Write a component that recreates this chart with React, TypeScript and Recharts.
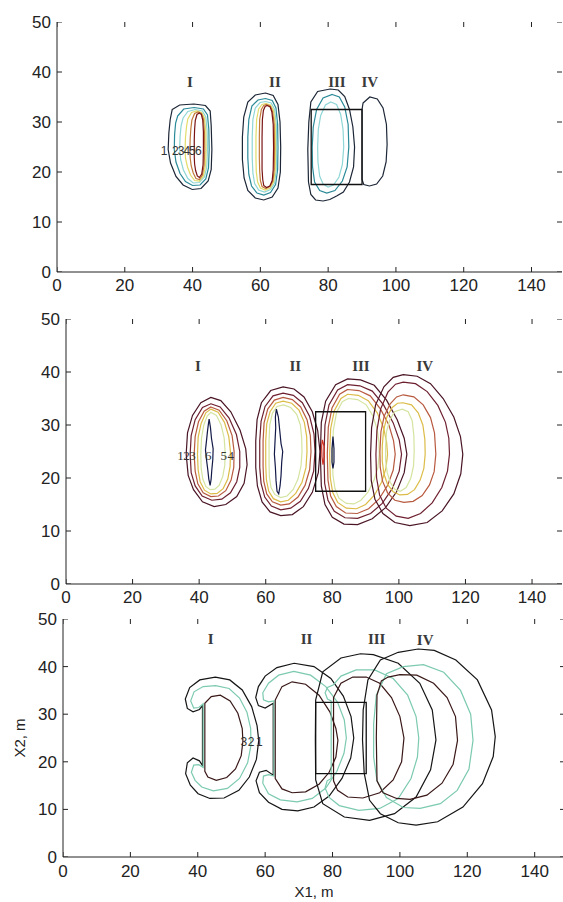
import React from 'react';
import { ComposedChart, Line, Scatter, XAxis, YAxis } from 'recharts';

// ---------- axes ----------
const xTicks = [0, 20, 40, 60, 80, 100, 120, 140];
const yTicks = [0, 10, 20, 30, 40, 50];
const xDomain = [0, 149];
const yDomain = [0, 50];

// ---------- box (all panels) ----------
const boxX = [75, 90];
const boxY = [17.5, 32.5];

// ---------- roman labels ----------
const romanText = ['I', 'II', 'III', 'IV'];
const romanP1 = [[39.2, 38.1], [64.3, 38], [82.6, 38], [92.3, 38]];
const romanP2 = [[39.6, 41.1], [68.9, 41.1], [88.6, 41.1], [107.8, 41.1]];
const romanP3 = [[43.8, 45.8], [72.3, 45.8], [93.1, 45.8], [107.5, 45.5]];

// ---------- contour labels ----------
const levelText1 = ['1', '2', '3', '4', '5', '6'];
const levelX1 = [31.6, 34.9, 36.6, 38.3, 39.9, 41.7];
const levelY1 = 24.2;
const levelText2 = ['1', '2', '3', '6', '5', '4'];
const levelX2 = [34.4, 36.2, 38.0, 42.7, 47.4, 49.5];
const levelY2 = 24.3;
const levelText3 = ['3', '2', '1'];
const levelX3 = [53.7, 55.8, 58.3];
const levelY3 = 24.2;

// ---------- colours ----------
const colors1 = ['#1c2636', '#2a8a98', '#8fd6d6', '#e2dc6a', '#c27a3a', '#7a1414'];
const colors2 = ['#4a1525', '#6e2030', '#b85a40', '#dcbc48', '#d4e4a0', '#141a48'];
const colors3 = ['#151515', '#7ccab0', '#3a1818'];
const redSpotColor = '#d03020';

// ---------- panel 1 contours ----------
const p1I1 = [[34.0,32.5],[36.2,33.4],[40.4,33.6],[43.8,33.3],[45.2,32.2],[45.5,29.2],[45.7,24.5],[45.5,20.5],[44.6,18.2],[42.5,16.7],[39.9,16.5],[37.2,17.4],[35.1,19.1],[33.5,21.8],[32.8,24.5],[33.0,27.8],[33.4,30.5]];
const p1I2 = [[35.6,31.2],[37.4,32.6],[40.5,32.9],[43.2,32.6],[44.4,31.4],[44.8,28.5],[44.9,24.5],[44.7,20.8],[43.9,18.6],[42.2,17.4],[40,17.3],[37.9,18.1],[36.3,19.7],[35.1,22],[34.6,24.5],[34.7,27.5],[35,29.8]];
const p1I3 = [[37.2,30.8],[38.6,32.1],[40.8,32.5],[42.9,32.2],[43.9,31],[44.3,28.3],[44.4,24.5],[44.2,21],[43.5,19],[42,17.9],[40.2,17.8],[38.6,18.7],[37.3,20.4],[36.5,22.4],[36.2,24.5],[36.3,27],[36.6,29.2]];
const p1I4 = [[38.6,30.6],[39.7,31.9],[41.2,32.2],[42.7,31.9],[43.5,30.8],[43.9,28.2],[44.0,24.5],[43.8,21.2],[43.2,19.2],[42,18.2],[40.6,18.3],[39.4,19.4],[38.5,21],[37.9,22.8],[37.8,24.5],[37.9,26.8],[38.2,29]];
const p1I5 = [[39.8,30.4],[40.6,31.7],[41.6,32.0],[42.6,31.7],[43.2,30.6],[43.5,28],[43.6,24.5],[43.4,21.3],[42.9,19.4],[42,18.5],[41.0,18.7],[40.2,19.8],[39.6,21.2],[39.3,22.8],[39.2,24.5],[39.3,26.7],[39.5,28.7]];
const p1I6 = [[40.8,30.3],[41.3,31.5],[42,31.8],[42.6,31.5],[43,30.4],[43.2,28],[43.2,24.5],[43.1,21.5],[42.7,19.6],[42,18.9],[41.4,19.2],[40.9,20.3],[40.6,21.6],[40.5,23],[40.5,24.5],[40.5,26.5],[40.6,28.5]];

const p1II1 = [[61.5,35.8],[63.8,35.3],[65.2,33.5],[65.8,30],[66.0,25],[65.9,20],[65.2,16.8],[63.5,15],[61,14.4],[58.5,14.8],[56.3,16.3],[55.2,18.8],[54.7,22.5],[54.7,27],[55.1,31],[56.3,34],[58.5,35.4]];
const p1II2 = [[61.5,34.7],[63.5,34.3],[64.6,32.8],[65.1,29.5],[65.2,25],[65.1,20.5],[64.5,17.5],[63,15.9],[61,15.4],[59,15.8],[57.4,17.2],[56.6,19.5],[56.3,22.8],[56.3,27],[56.6,30.5],[57.5,33.2],[59.3,34.4]];
const p1II3 = [[61.5,34.1],[63.2,33.8],[64.2,32.5],[64.7,29.5],[64.8,25],[64.7,20.5],[64.2,17.8],[63,16.5],[61.2,16],[59.5,16.4],[58.3,17.7],[57.8,19.8],[57.6,22.8],[57.6,27],[57.8,30.5],[58.5,32.8],[59.9,33.9]];
const p1II4 = [[61.6,33.7],[63,33.4],[63.9,32.3],[64.4,29.5],[64.5,25],[64.4,20.5],[63.9,18],[62.9,16.8],[61.4,16.4],[60,16.8],[59.2,18],[58.8,20],[58.7,23],[58.7,27],[58.9,30.5],[59.5,32.6],[60.5,33.5]];
const p1II5 = [[61.8,33.5],[62.9,33.2],[63.6,32.1],[64.1,29.5],[64.2,25],[64.1,20.5],[63.7,18.2],[62.8,17.1],[61.6,16.7],[60.5,17.1],[60,18.3],[59.8,20.2],[59.7,23],[59.7,27],[59.8,30.5],[60.3,32.5],[61,33.3]];
const p1II6 = [[62,33.3],[62.9,33],[63.4,32],[63.8,29.5],[63.9,25],[63.8,20.5],[63.5,18.3],[62.8,17.2],[61.8,16.9],[61,17.3],[60.7,18.5],[60.5,20.5],[60.5,23],[60.5,27],[60.6,30.5],[60.9,32.3],[61.4,33.1]];

const p1III1 = [[80.6,36.6],[83,36.4],[84.9,35.1],[86.3,32.5],[87.3,29],[87.8,25],[87.5,21],[86.3,18],[84.5,16],[82.5,15.2],[80.5,14.5],[78.5,14.2],[76.3,14.4],[74.9,15.5],[74.2,18],[74.0,24.5],[74.3,30],[74.9,34],[76.9,36.1]];
const p1III2 = [[81.2,35.5],[83.3,35],[84.9,33],[85.9,29.5],[86.1,25],[85.6,21],[84.2,18.2],[82,16.3],[79.6,15.8],[77.5,16.3],[76,18],[75.4,21],[75.3,25],[75.6,29],[76.6,32.5],[78.5,34.8]];
const p1III3 = [[80.8,34],[82.5,33.5],[83.7,31.5],[84.4,28.5],[84.6,25],[84.2,21.5],[83.2,19],[81.6,17.4],[80,17],[78.5,17.6],[77.5,19.2],[77,22],[76.9,25],[77.1,28.5],[77.8,31.3],[79.2,33.4]];

const p1IV1 = [[90.3,33.8],[92.3,35],[94.5,34.6],[96.2,32.8],[97.2,29.5],[97.4,25.5],[97.1,22],[96.1,19.2],[94.3,17.6],[92.2,17.2],[90.5,17.5],[90,18.5],[90,32.5]];

// ---------- panel 2 contours ----------
const p2I1 = [[43.5,35.2],[46.5,34.6],[49.5,32.5],[52.3,29],[54,25.5],[54.4,22.5],[53.5,19],[51.3,16.5],[48,15],[44.5,14.6],[41,15.5],[38.3,17.8],[36.7,20.5],[36.1,24.5],[36.5,28.5],[38,31.8],[40.5,34.2]];
const p2I2 = [[43.5,34],[46.3,33.4],[49,31.3],[51.2,28.2],[52.2,25],[52.2,22],[51.3,19.3],[49.4,17.2],[46.8,16],[43.8,15.8],[40.9,16.6],[38.8,18.5],[37.6,21],[37.3,24.5],[37.6,28],[38.8,31],[41,33.3]];
const p2I3 = [[43.5,33.4],[46,32.8],[48.3,30.8],[49.9,28],[50.5,25],[50.4,22],[49.6,19.6],[48,17.6],[45.8,16.6],[43.5,16.5],[41.2,17.2],[39.6,18.9],[38.8,21.3],[38.5,24.5],[38.8,27.8],[39.8,30.6],[41.5,32.6]];
const p2I4 = [[43.5,33],[45.7,32.4],[47.6,30.5],[48.9,27.8],[49.4,25],[49.3,22.2],[48.6,19.8],[47.2,18],[45.4,17.1],[43.5,17],[41.6,17.7],[40.3,19.3],[39.7,21.5],[39.5,24.5],[39.7,27.7],[40.6,30.3],[42,32.3]];
const p2I5 = [[43.5,32.4],[45.2,31.8],[46.6,30],[47.5,27.6],[47.8,25],[47.7,22.4],[47.1,20.3],[46,18.6],[44.7,17.9],[43.3,17.8],[42,18.4],[41.1,19.8],[40.6,21.8],[40.5,24.5],[40.7,27.5],[41.4,30],[42.4,31.7]];
const p2I6 = [[43,31.1],[43.4,29.5],[43.7,27.5],[44.2,25.5],[44.1,23.5],[43.8,21.5],[43.6,19.8],[43.3,18.6],[42.9,19.8],[42.6,21.5],[42.2,23.5],[41.9,25.3],[42.2,27],[42.5,28.8],[42.8,30.3]];

const p2II1 = [[65.2,37.2],[68.5,36.8],[71.5,35.3],[74,32.5],[75.6,29],[76.3,25],[75.8,21],[74,17.3],[71.3,14.6],[68,13.1],[64.5,12.9],[61.3,13.6],[58.9,15.5],[57.5,18.5],[57,22],[57,27],[57.4,31],[58.7,34.2],[61.5,36.5]];
const p2II2 = [[65.2,36],[68.3,35.6],[71,34.2],[73.2,31.6],[74.5,28.3],[74.8,25],[74.4,21.3],[72.8,18],[70.4,15.6],[67.5,14.3],[64.5,14],[61.7,14.7],[59.7,16.4],[58.6,19],[58.2,22],[58.2,27],[58.6,30.7],[59.8,33.5],[62.2,35.5]];
const p2II3 = [[65.2,35.2],[68,34.8],[70.5,33.4],[72.4,31],[73.4,28],[73.6,25],[73.2,21.6],[71.8,18.6],[69.7,16.4],[67.1,15.1],[64.5,14.9],[62,15.5],[60.3,17],[59.4,19.4],[59.2,22.2],[59.2,27],[59.5,30.4],[60.6,33],[62.6,34.7]];
const p2II4 = [[65.2,34.5],[67.8,34.1],[70,32.8],[71.6,30.5],[72.3,27.8],[72.4,25],[72.1,22],[70.9,19.2],[69,17.1],[66.8,15.8],[64.5,15.5],[62.3,16.1],[60.9,17.5],[60.2,19.7],[60,22.4],[60,27],[60.3,30.2],[61.3,32.5],[63,34.1]];
const p2II5 = [[65.3,33.8],[67.5,33.3],[69.3,32],[70.4,30],[70.8,27.6],[70.9,25],[70.6,22.3],[69.7,19.8],[68.2,17.8],[66.4,16.6],[64.5,16.3],[62.7,16.9],[61.6,18.2],[61.1,20.2],[61,22.6],[61,27],[61.2,30],[62,32.2],[63.4,33.5]];
const p2II6 = [[63.2,33],[63.8,31.5],[64.2,29],[64.6,26.5],[65.1,25],[64.8,23],[64.6,20.5],[64.3,18.5],[63.9,17],[63.4,17.5],[63.1,19.5],[62.9,22],[62.6,24.5],[62.8,27],[63,29.5],[62.9,31.5]];

const p2III1 = [[84.6,38.7],[88.5,38.5],[92.6,37.5],[96.3,34.7],[99.5,31],[101.6,27.5],[102.4,24.5],[101.6,21],[99.3,17.4],[96,14.4],[92,12.3],[87.6,11.2],[83.5,11.3],[80,12.6],[77.8,15],[76.7,18.5],[76.4,24.5],[76.7,30.5],[78,34.5],[81,37.6]];
const p2III2 = [[84.6,37.6],[88.3,37.4],[92,36.4],[95.4,33.8],[98.3,30.4],[100.1,27.2],[100.8,24.5],[100.1,21.3],[98,18],[95,15.2],[91.5,13.3],[87.6,12.4],[83.8,12.5],[80.6,13.7],[78.7,15.8],[77.7,19],[77.5,24.5],[77.8,30],[79,33.8],[81.6,36.6]];
const p2III3 = [[84.6,36.7],[88,36.5],[91.4,35.5],[94.5,33],[97,30],[98.4,27],[98.9,24.5],[98.3,21.5],[96.6,18.6],[94,16],[90.9,14.2],[87.5,13.3],[84,13.4],[81.2,14.6],[79.5,16.6],[78.7,19.6],[78.5,24.5],[78.8,29.6],[79.9,33.2],[82.2,35.8]];
const p2III4 = [[84.6,35.8],[87.8,35.6],[90.8,34.6],[93.5,32.3],[95.4,29.5],[96.3,26.8],[96.6,24.5],[96.1,21.8],[94.8,19.2],[92.7,16.8],[90,15],[87.3,14.2],[84.2,14.3],[81.6,15.4],[80.1,17.3],[79.4,20],[79.2,24.5],[79.5,29.3],[80.6,32.7],[82.6,35]];
const p2III5 = [[84.8,35],[87.6,34.8],[90.2,33.8],[92.2,31.7],[93.5,29.2],[94,26.8],[94.1,24.5],[93.7,22],[92.6,19.7],[90.8,17.4],[88.6,15.8],[86.5,15.1],[84.2,15.2],[82,16.2],[80.8,18],[80.2,20.5],[80,24.5],[80.3,29],[81.3,32.4],[83,34.4]];
const p2III6 = [[80.2,27.8],[80.5,25.5],[80.5,23],[80.2,21.8],[79.9,23],[79.9,25.5]];
const p2RedSpot = [[77,27.2],[77.5,26],[77.6,24],[77.2,22.5],[76.9,24],[76.8,26]];

const p2IV1 = [[101.3,39.5],[105.5,39.2],[109.5,37.8],[113.3,35],[116.5,31.5],[118.5,27.8],[119.2,24.5],[118.6,20.8],[116.5,17],[113,13.8],[108.5,11.6],[103.3,11],[98.8,11.6],[95.2,13.3],[92.8,16],[91.7,19.5],[91.5,24.5],[91.8,29.5],[93,33.8],[95.5,37.2],[98.3,39]];
const p2IV2 = [[101.3,38.1],[105,37.8],[108.5,36.3],[111.7,33.7],[114,30.5],[115,27.5],[115.2,24.5],[114.6,21.3],[112.9,18.2],[110,15.3],[106.5,13.3],[102.8,12.4],[99.2,12.8],[96.2,14.3],[94.2,16.8],[93.3,20],[93.1,24.5],[93.4,29],[94.5,33],[96.7,36.2],[99,37.7]];
const p2IV3 = [[101.3,35.7],[104.5,35.3],[107.3,33.8],[109.5,31.4],[110.7,28.5],[111.1,24.5],[110.6,21.2],[109.2,18.7],[107,16.7],[104.3,15.6],[101.5,15.4],[98.8,15.8],[96.6,17.2],[95.1,19.4],[94.4,22],[94.3,25],[94.6,28.7],[95.6,31.7],[97.4,34],[99.3,35.3]];
const p2IV4 = [[101.2,34.2],[103.8,33.8],[105.8,32.3],[107.2,30],[107.8,27.3],[107.9,24.5],[107.5,21.8],[106.4,19.6],[104.7,17.8],[102.6,16.9],[100.3,16.8],[98.3,17.4],[96.6,18.8],[95.5,20.8],[95,23.2],[95,26],[95.4,29],[96.4,31.5],[98,33.3],[99.6,34.1]];
const p2IV5 = [[101,33],[102.8,32.5],[104,30.8],[104.5,28],[104.6,25],[104.4,22.3],[103.6,20],[102.2,18.2],[100.4,17.5],[98.7,17.9],[97.4,19.2],[96.5,21],[96,23.3],[96,26],[96.3,28.8],[97.3,31],[98.7,32.5]];

// ---------- panel 3 contours ----------
const p3I1 = [[45.2,37.8],[49.5,37.2],[53.2,35.1],[56,31.6],[57.6,27.6],[58.1,24.5],[57.4,20.5],[55.3,16.8],[52.2,14],[47.8,12.4],[43.6,12.3],[40.1,13.3],[37.8,15.1],[36.4,17.5],[36.9,19.8],[38.6,20.8],[40.5,20.2],[41.4,19.2],[41.4,31.8],[40.5,31],[38.6,30.5],[36.9,31.2],[36.3,33.2],[37.6,35.6],[40.6,37.2]];
const p3I2 = [[45.3,36],[49.3,35.4],[52.4,33.4],[54.6,30.4],[55.7,27],[55.8,23.5],[54.8,19.8],[52.4,16.5],[48.8,14.4],[44.6,13.9],[41.2,14.7],[39.2,16.1],[38.1,17.8],[38.8,19.3],[40.3,19.4],[41.6,18.8],[41.6,32.2],[40.3,31.4],[38.8,31.3],[37.9,32.8],[38.9,34.7],[41.6,35.8]];
const p3I3 = [[42.1,32.3],[44,33.7],[46.7,34],[49.6,32.8],[51.9,30.2],[53.2,27],[53.4,24.3],[52.9,21.3],[51.2,18.5],[48.6,16.7],[45.5,16.1],[43,16.8],[42.1,18]];

const p3II1 = [[68.6,40.7],[74.5,40],[79.5,37.5],[83.2,33.8],[85.5,29.5],[86.3,25],[85.4,20.8],[82.8,16.5],[79,12.8],[74.5,10.5],[69.7,9.7],[65,10],[61,11.5],[58.3,13.5],[57.3,16],[58.3,17.8],[60.3,18.2],[62.4,17.2],[62.4,32.3],[60,31.3],[58,31.8],[57.2,33.5],[58,35.8],[60,38],[63.5,39.8]];
const p3II2 = [[68.5,39],[73.5,38.2],[78,35.8],[81.5,32.5],[83.5,28.8],[84.1,25],[83.4,21.8],[81.3,18],[78,14.5],[74,12.3],[69.5,11.6],[64.5,12],[61,13.3],[59.3,15.5],[59.5,17],[61,17.3],[62.6,17],[62.6,32.8],[61,32.6],[59.5,33],[59.3,34.5],[61,36.5],[64,38.2]];
const p3II3 = [[63,33],[65,35.8],[68,36.8],[72,36.3],[76,34],[79.2,30.5],[81,27],[81.6,24.5],[81,21],[79,17.8],[76,15.3],[72,13.7],[68,13.5],[65,14.3],[63,16.5]];

const p3III1 = [[88.3,42.7],[92.1,42.5],[99.5,40.7],[105.9,36.5],[109.6,30.9],[110.7,24.6],[109.1,18.3],[104.8,12.6],[98.4,9.1],[91,7.7],[83.5,8.4],[77.1,11.2],[75,16.2],[74.9,24.6],[75,33],[77.1,38.9],[82.5,41.8]];
const p3III2 = [[80.3,36.2],[82.5,38],[87,39.3],[92.5,39.3],[98,37.5],[102.3,34],[104.8,29.5],[105.6,25],[105.2,21],[103.3,16.5],[99.5,12.3],[94,10.2],[87.8,9.8],[82,10.8],[79,12.5],[77.8,14.5],[78.4,16],[79.6,16.5],[79.6,32.8],[78.5,33.2],[77.8,34.5],[78.5,35.6]];
const p3III3 = [[80.3,33.5],[82.5,36.5],[86,37.8],[90,37.8],[94,36.5],[97.5,33.5],[100,29.5],[101.2,25],[100.5,20],[98,16.2],[94,13.5],[89,12.4],[84.5,12.6],[81.5,14],[80.3,16]];

const p3IV1 = [[99.5,43.0],[105.4,43.7],[110.2,43.4],[116.6,41.4],[123.0,37.2],[127.2,30.9],[128.3,25.3],[127.7,21.1],[124.5,15.4],[118.7,10.5],[111.2,7.4],[104.8,6.7],[99.5,7.2],[94.2,9.1],[91.0,11.9],[89.4,17.6],[88.9,24.6],[89.1,30.9],[90.5,37.2],[94.2,41.4]];
const p3IV2 = [[101,40],[107,40.4],[113,38.8],[118,35],[121,30],[121.7,24.5],[120.5,18.5],[117,14],[112,11.2],[106,10.2],[101,10.4],[96,12.5],[93.2,16],[92.2,21],[92.2,28],[93,34],[96,38.5]];
const p3IV3 = [[96.5,37.8],[100,38.3],[105,38.2],[110,36.5],[114,33.5],[116.5,29.5],[117.1,24.5],[115.8,19.5],[112.5,15.5],[108,13],[103,12.1],[99,12.3],[95,13.5],[93.2,16],[93,25],[93.2,34],[94.5,37]];

// ---------- build tables ----------
const pts = (a: number[][]) => a.map(([x, y]) => ({ x, y }));
const boxPts = [
  { x: boxX[0], y: boxY[0] },
  { x: boxX[1], y: boxY[0] },
  { x: boxX[1], y: boxY[1] },
  { x: boxX[0], y: boxY[1] },
];
const romans = (p: number[][]) => p.map(([x, y], i) => ({ x, y, t: romanText[i] }));
const levels = (texts: string[], xs: number[], y: number) => texts.map((t, i) => ({ x: xs[i], y, t }));

// inner tick marks (MATLAB style) on all four sides
const tickMarks = [
  ...xTicks.map((x) => ({ x, y: yDomain[0], dir: 'up' })),
  ...xTicks.map((x) => ({ x, y: yDomain[1], dir: 'down' })),
  ...yTicks.map((y) => ({ x: xDomain[0], y, dir: 'right' })),
  ...yTicks.map((y) => ({ x: xDomain[1], y, dir: 'left' })),
];

const panel1Contours = [
  ...[p1I1, p1I2, p1I3, p1I4, p1I5, p1I6].map((c, i) => ({ d: pts(c), color: colors1[i] })),
  ...[p1II1, p1II2, p1II3, p1II4, p1II5, p1II6].map((c, i) => ({ d: pts(c), color: colors1[i] })),
  ...[p1III1, p1III2, p1III3].map((c, i) => ({ d: pts(c), color: colors1[i] })),
  { d: pts(p1IV1), color: colors1[0] },
];
const panel2Contours = [
  ...[p2I1, p2I2, p2I3, p2I4, p2I5, p2I6].map((c, i) => ({ d: pts(c), color: colors2[i] })),
  ...[p2II1, p2II2, p2II3, p2II4, p2II5, p2II6].map((c, i) => ({ d: pts(c), color: colors2[i] })),
  ...[p2III1, p2III2, p2III3, p2III4, p2III5, p2III6].map((c, i) => ({ d: pts(c), color: colors2[i] })),
  { d: pts(p2RedSpot), color: redSpotColor },
  ...[p2IV1, p2IV2, p2IV3, p2IV4, p2IV5].map((c, i) => ({ d: pts(c), color: colors2[i] })),
];
const panel3Contours = [
  ...[p3I1, p3I2, p3I3].map((c, i) => ({ d: pts(c), color: colors3[i] })),
  ...[p3II1, p3II2, p3II3].map((c, i) => ({ d: pts(c), color: colors3[i] })),
  ...[p3III1, p3III2, p3III3].map((c, i) => ({ d: pts(c), color: colors3[i] })),
  ...[p3IV1, p3IV2, p3IV3].map((c, i) => ({ d: pts(c), color: colors3[i] })),
];

const sans = '"Liberation Sans", Arial, sans-serif';
const serif = '"Liberation Serif", "Times New Roman", serif';
const tickFont = { fill: '#222', fontSize: 17, fontFamily: sans };
const noTick = () => <g />;

const tickShape = (props: any) => {
  const { cx, cy, payload } = props;
  const L = 5;
  let x2 = cx;
  let y2 = cy;
  if (payload.dir === 'up') y2 = cy - L;
  if (payload.dir === 'down') y2 = cy + L;
  if (payload.dir === 'right') x2 = cx + L;
  if (payload.dir === 'left') x2 = cx - L;
  return <line x1={cx} y1={cy} x2={x2} y2={y2} stroke="#222" strokeWidth={1} />;
};

type PanelProps = {
  top: number;
  width: number;
  height: number;
  margin: { top: number; right: number; bottom: number; left: number };
  xAxisHeight: number;
  xTickMargin: number;
  contours: { d: { x: number; y: number }[]; color: string }[];
  romanPts: { x: number; y: number; t: string }[];
  levelPts: { x: number; y: number; t: string }[];
  levelFont: string;
  levelSize: number;
  titles?: boolean;
};

function Panel(p: PanelProps) {
  const romanShape = (props: any) => (
    <text
      x={props.cx}
      y={props.cy}
      textAnchor="middle"
      dominantBaseline="central"
      fontFamily={serif}
      fontSize={15}
      fontWeight="bold"
      fill="#3a3a3a"
    >
      {props.payload.t}
    </text>
  );
  const levelShape = (props: any) => (
    <text
      x={props.cx}
      y={props.cy}
      textAnchor="middle"
      dominantBaseline="central"
      fontFamily={p.levelFont}
      fontSize={p.levelSize}
      fill="#333"
    >
      {props.payload.t}
    </text>
  );
  return (
    <div style={{ position: 'absolute', left: 0, top: p.top }}>
      <ComposedChart width={p.width} height={p.height} margin={p.margin}>
        <XAxis
          xAxisId="b"
          type="number"
          dataKey="x"
          domain={xDomain}
          ticks={xTicks}
          allowDataOverflow
          height={p.xAxisHeight}
          tickSize={5}
          tickLine={false}
          tickMargin={p.xTickMargin}
          tick={tickFont}
          stroke="#222"
          label={
            p.titles
              ? {
                  value: 'X1, m',
                  position: 'insideBottom',
                  offset: 5,
                  style: { fontSize: 15, fill: '#222', fontFamily: sans },
                }
              : undefined
          }
        />
        <XAxis
          xAxisId="t"
          orientation="top"
          type="number"
          dataKey="x"
          domain={xDomain}
          ticks={xTicks}
          allowDataOverflow
          height={0}
          tickLine={false}
          tick={noTick}
          stroke="#222"
        />
        <YAxis
          yAxisId="l"
          type="number"
          dataKey="y"
          domain={yDomain}
          ticks={yTicks}
          allowDataOverflow
          width={50}
          tickSize={5}
          tickLine={false}
          tickMargin={1}
          tick={tickFont}
          stroke="#222"
          label={
            p.titles
              ? {
                  value: 'X2, m',
                  angle: -90,
                  position: 'insideLeft',
                  offset: 7,
                  style: { fontSize: 15, fill: '#222', textAnchor: 'middle', fontFamily: sans },
                }
              : undefined
          }
        />
        <YAxis
          yAxisId="r"
          orientation="right"
          type="number"
          dataKey="y"
          domain={yDomain}
          ticks={yTicks}
          allowDataOverflow
          width={0}
          tickLine={false}
          tick={noTick}
          stroke="#222"
        />
        {p.contours.map((c, i) => (
          <Line
            key={i}
            xAxisId="b"
            yAxisId="l"
            data={c.d}
            dataKey="y"
            type="linearClosed"
            stroke={c.color}
            strokeWidth={1.2}
            dot={false}
            activeDot={false}
            isAnimationActive={false}
            legendType="none"
          />
        ))}
        <Line
          xAxisId="b"
          yAxisId="l"
          data={boxPts}
          dataKey="y"
          type="linearClosed"
          stroke="#111"
          strokeWidth={1.3}
          dot={false}
          activeDot={false}
          isAnimationActive={false}
        />
        <Scatter xAxisId="b" yAxisId="l" data={tickMarks} dataKey="y" shape={tickShape} isAnimationActive={false} />
        <Scatter xAxisId="b" yAxisId="l" data={p.romanPts} dataKey="y" shape={romanShape} isAnimationActive={false} />
        <Scatter xAxisId="b" yAxisId="l" data={p.levelPts} dataKey="y" shape={levelShape} isAnimationActive={false} />
      </ComposedChart>
    </div>
  );
}

export default function App() {
  return (
    <div
      style={{
        position: 'absolute',
        left: 0,
        top: 0,
        width: 563,
        height: 902,
        overflow: 'hidden',
        background: '#fff',
      }}
    >
      <Panel
        top={0}
        width={563}
        height={300}
        margin={{ top: 22, right: 1, bottom: 0, left: 7 }}
        xAxisHeight={28}
        xTickMargin={2}
        contours={panel1Contours}
        romanPts={romans(romanP1)}
        levelPts={levels(levelText1, levelX1, levelY1)}
        levelFont={sans}
        levelSize={12}
      />
      <Panel
        top={300}
        width={563}
        height={312}
        margin={{ top: 19, right: 1, bottom: 0, left: 16 }}
        xAxisHeight={28}
        xTickMargin={2}
        contours={panel2Contours}
        romanPts={romans(romanP2)}
        levelPts={levels(levelText2, levelX2, levelY2)}
        levelFont={serif}
        levelSize={13}
      />
      <Panel
        top={600}
        width={570}
        height={302}
        margin={{ top: 19, right: 5, bottom: 0, left: 13 }}
        xAxisHeight={45}
        xTickMargin={3}
        contours={panel3Contours}
        romanPts={romans(romanP3)}
        levelPts={levels(levelText3, levelX3, levelY3)}
        levelFont={sans}
        levelSize={12}
        titles
      />
    </div>
  );
}
